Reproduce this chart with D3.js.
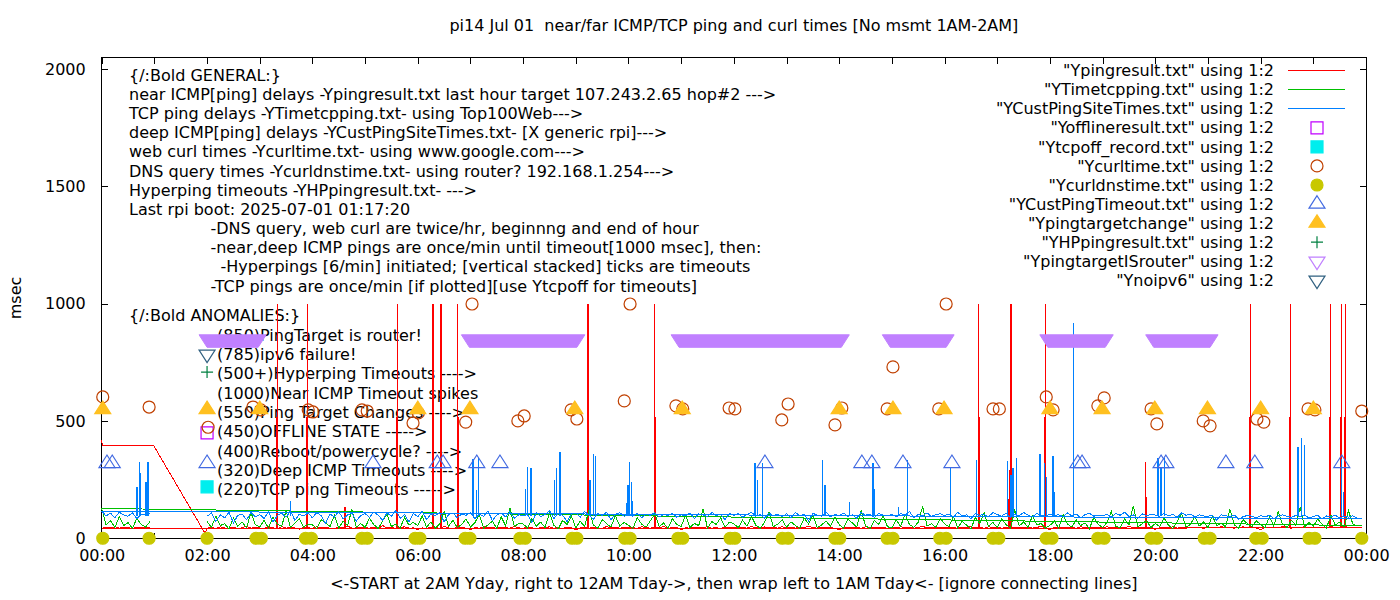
<!DOCTYPE html>
<html>
<head>
<meta charset="utf-8">
<script src="https://cdn.jsdelivr.net/npm/d3@7"></script>
<style>
  body { margin: 0; background: #fff; }
  svg text { font-family: "DejaVu Sans", sans-serif; font-size: 16px; fill: #000; white-space: pre; }
</style>
</head>
<body>
<svg id="chart"></svg>
<script>
// ---- data (hours since midnight, msec) ----

// near ICMP ping (Ypingresult.txt): odd "last hour" head, then 5-min samples 02:00-24:00 yesterday, then 00:00-01:00 today
const nearPingHead = [[0.0, 420], [0.01, 398], [0.98, 398], [1.96, 23]];
const nearPingRows = [
  [44, 47, 42, 50, 45, 43, 48, 41, 46, 52, 44, 47],
  [45, 43, 49, 46, 42, 51, 44, 47, 45, 40, 48, 46],
  [43, 50, 45, 47, 44, 42, 49, 46, 53, 44, 45, 48],
  [46, 44, 48, 42, 55, 45, 47, 43, 46, 50, 44, 45],
  [38, 45, 43, 49, 46, 44, 51, 45, 42, 48, 46, 44],
  [38, 46, 44, 50, 45, 47, 43, 49, 46, 44, 52, 45],
  [44, 48, 46, 42, 47, 45, 50, 44, 46, 43, 49, 47],
  [36, 45, 49, 44, 47, 46, 42, 51, 45, 48, 44, 46],
  [45, 47, 43, 50, 46, 44, 48, 45, 52, 43, 46, 47],
  [37, 46, 44, 48, 45, 47, 50, 44, 46, 43, 49, 45],
  [48, 45, 47, 44, 51, 46, 43, 49, 45, 47, 44, 50],
  [46, 48, 44, 47, 45, 53, 46, 44, 48, 45, 47, 43],
  [37, 47, 45, 49, 46, 44, 50, 47, 45, 48, 46, 44],
  [47, 45, 50, 46, 48, 44, 47, 52, 45, 49, 46, 48],
  [45, 49, 46, 44, 48, 47, 51, 45, 47, 44, 50, 46],
  [48, 44, 47, 50, 45, 49, 46, 48, 44, 47, 52, 45],
  [38, 47, 49, 45, 48, 46, 44, 50, 47, 45, 49, 46],
  [46, 50, 45, 48, 44, 47, 51, 46, 49, 45, 47, 48],
  [39, 45, 48, 46, 50, 44, 47, 49, 45, 48, 46, 44],
  [47, 49, 45, 51, 46, 48, 44, 47, 50, 46, 49, 45],
  [38, 48, 46, 49, 45, 51, 47, 44, 48, 46, 50, 47],
  [46, 49, 47, 45, 50, 48, 46, 52, 47, 45, 49, 45]
];
const nearPingToday = [[43, 47, 45, 50, 44, 48, 46, 42, 49, 45, 47, 46]];
// near ICMP timeout spikes: [hour, peak, top of the stacked part]
const nearSpikes = [
  [3.33, 1000, 518], [3.90, 1000, 518], [4.62, 134, 0], [5.61, 1000, 518], [6.29, 1000, 518],
  [6.44, 1000, 518], [6.76, 1000, 518], [9.23, 1000, 518], [10.50, 1000, 518], [16.65, 1000, 518],
  [17.23, 292, 170], [17.26, 1000, 518], [17.91, 1000, 518], [19.82, 326, 177], [21.80, 1000, 518],
  [22.56, 1000, 518], [23.32, 1000, 518], [23.53, 1000, 518], [23.61, 1000, 518]
];
const nearBase = 45;

// TCP ping (YTimetcpping.txt)
const tcpPingRows = [
  [72, 48, 95, 55, 63, 41, 88, 52, 70, 46, 110, 58],
  [50, 77, 44, 92, 60, 53, 118, 47, 66, 85, 49, 61],
  [58, 43, 80, 67, 51, 99, 45, 73, 56, 122, 48, 64],
  [47, 86, 59, 42, 75, 104, 50, 62, 45, 90, 57, 69],
  [54, 96, 48, 71, 44, 63, 115, 52, 78, 46, 60, 83],
  [49, 67, 101, 45, 58, 74, 43, 92, 55, 130, 51, 64],
  [62, 45, 84, 53, 70, 47, 108, 56, 41, 77, 60, 95],
  [46, 73, 52, 120, 58, 44, 81, 63, 49, 97, 54, 68],
  [57, 42, 89, 61, 48, 76, 105, 50, 66, 43, 84, 59],
  [51, 99, 47, 64, 55, 126, 45, 72, 60, 88, 48, 70],
  [63, 46, 78, 52, 94, 57, 44, 69, 112, 50, 61, 80],
  [48, 71, 56, 43, 87, 62, 100, 47, 58, 74, 53, 91],
  [59, 44, 83, 66, 49, 118, 55, 42, 76, 61, 97, 50],
  [45, 79, 52, 104, 60, 47, 70, 136, 54, 63, 48, 86],
  [62, 50, 93, 46, 73, 57, 41, 89, 65, 110, 52, 68],
  [48, 85, 59, 44, 121, 53, 71, 47, 96, 58, 64, 45],
  [56, 74, 43, 102, 61, 49, 80, 55, 67, 42, 90, 60],
  [47, 68, 115, 52, 45, 83, 58, 140, 50, 62, 77, 46],
  [64, 51, 88, 57, 43, 72, 106, 48, 60, 94, 53, 70],
  [45, 97, 55, 66, 49, 124, 58, 44, 81, 63, 50, 75],
  [59, 46, 92, 53, 113, 61, 47, 78, 56, 132, 49, 68],
  [52, 84, 60, 45, 99, 57, 70, 48, 118, 62, 54, 55]
];
const tcpPingToday = [[128, 58, 76, 47, 92, 55, 68, 44, 85, 60, 49, 72]];

// deep ICMP ping (YCustPingSiteTimes.txt)
const deepPingRows = [
  [95, 108, 72, 101, 88, 112, 66, 99, 104, 80, 110, 93],
  [102, 85, 114, 70, 98, 107, 91, 118, 77, 103, 96, 109],
  [88, 111, 97, 64, 105, 92, 115, 83, 100, 108, 74, 98],
  [106, 90, 113, 99, 78, 110, 95, 120, 86, 102, 69, 107],
  [93, 116, 81, 104, 97, 112, 71, 101, 109, 88, 105, 99],
  [110, 84, 103, 95, 117, 76, 100, 108, 92, 114, 87, 101],
  [97, 105, 68, 111, 94, 102, 119, 85, 107, 99, 73, 104],
  [108, 91, 115, 100, 82, 106, 97, 112, 79, 103, 110, 95],
  [101, 95, 106, 88, 104, 99, 110, 92, 103, 97, 108, 90],
  [102, 96, 109, 85, 105, 100, 93, 111, 98, 104, 80, 107],
  [99, 106, 91, 103, 112, 95, 101, 87, 108, 97, 104, 93],
  [105, 89, 110, 98, 102, 76, 107, 100, 95, 113, 92, 103],
  [97, 108, 94, 101, 86, 111, 99, 104, 90, 106, 100, 96],
  [103, 92, 107, 99, 115, 88, 102, 97, 109, 94, 101, 105],
  [98, 104, 90, 112, 96, 101, 83, 107, 99, 103, 93, 110],
  [102, 95, 108, 89, 104, 97, 111, 100, 92, 106, 99, 94],
  [105, 98, 101, 93, 109, 96, 104, 88, 102, 107, 95, 100],
  [97, 103, 91, 106, 99, 112, 94, 101, 86, 105, 98, 102],
  [100, 94, 107, 97, 103, 90, 109, 99, 104, 92, 101, 96],
  [95, 99, 78, 101, 97, 94, 100, 82, 93, 98, 95, 88],
  [97, 92, 99, 85, 96, 101, 94, 90, 98, 93, 100, 87],
  [94, 98, 83, 96, 92, 99, 88, 95, 91, 97, 86, 84]
];
const deepPingToday = [[117, 96, 108, 89, 112, 101, 95, 110, 84, 104, 99, 107]];
// deep ICMP one-minute spikes: [hour, peak]
const deepSpikes = [
  [0.67, 220], [0.71, 326], [0.73, 280], [0.84, 240], [0.88, 326], [3.58, 160],
  [7.05, 340], [7.11, 205], [7.16, 343], [8.05, 210], [8.09, 305], [8.15, 300],
  [8.60, 250], [8.64, 300], [8.70, 370], [9.27, 250], [9.33, 360], [9.38, 350],
  [9.96, 150], [9.99, 230], [10.02, 326], [10.05, 240], [10.08, 160],
  [12.40, 320], [12.45, 250], [12.55, 320], [13.69, 335], [13.73, 230], [14.19, 155],
  [14.64, 320], [14.67, 210], [15.12, 135], [15.29, 334], [16.12, 305], [16.61, 335],
  [17.20, 330], [17.26, 270], [17.30, 300], [17.36, 345], [17.81, 360], [17.89, 320],
  [17.93, 260], [18.06, 350], [18.09, 200], [18.44, 920], [18.45, 500],
  [20.05, 345], [20.11, 300], [20.17, 345], [22.71, 390], [22.77, 430], [22.84, 400],
  [23.54, 340], [23.58, 200]
];
const deepBase = 95;

// point files: [hour, msec]
const offlineState = [[2.0, 450]];
const tcpOff = [[2.0, 220]];
const curlTimes = [
  [0.02, 603], [0.90, 560], [2.02, 474], [2.87, 560], [3.02, 548], [3.92, 548], [4.01, 539],
  [4.94, 548], [5.04, 543], [5.91, 492], [6.01, 535], [6.91, 496], [7.03, 999], [7.90, 501],
  [8.02, 522], [8.91, 548], [9.02, 509], [9.92, 586], [10.03, 999], [10.90, 565], [11.03, 552],
  [11.91, 556], [12.02, 552], [12.91, 505], [13.03, 573], [13.92, 484], [14.05, 556],
  [14.91, 552], [15.02, 731], [15.89, 552], [16.03, 999], [16.92, 552], [17.04, 552],
  [17.93, 603], [18.06, 548], [18.91, 565], [19.03, 599], [19.92, 552], [20.03, 488],
  [20.91, 501], [21.04, 480], [21.93, 509], [22.06, 496], [22.90, 552], [23.03, 548], [23.92, 543]
];
const dnsTimes = [
  [0.02, 1], [0.90, 1], [2.00, 1], [2.93, 1], [3.03, 1], [3.87, 1], [3.98, 1], [4.94, 1], [5.04, 1],
  [5.95, 1], [6.04, 1], [6.90, 1], [6.99, 1], [7.94, 1], [8.04, 1], [8.93, 1], [9.02, 1],
  [9.93, 1], [10.03, 1], [10.94, 1], [11.03, 1], [11.93, 1], [12.02, 1], [12.92, 1], [13.03, 1],
  [13.92, 1], [14.01, 1], [14.91, 1], [15.02, 1], [15.91, 1], [16.03, 1], [16.92, 1], [17.03, 1],
  [17.93, 1], [18.04, 1], [18.91, 1], [19.03, 1], [19.92, 1], [20.03, 1], [20.93, 1], [21.04, 1],
  [21.91, 1], [22.03, 1], [22.92, 1], [23.03, 1], [23.92, 1]
];
const deepTimeouts = [
  [0.10, 320], [0.20, 320], [2.0, 320], [5.15, 320], [6.37, 320], [6.48, 320], [7.12, 320],
  [7.56, 320], [12.59, 320], [14.43, 320], [14.62, 320], [15.21, 320], [16.14, 320],
  [18.53, 320], [18.61, 320], [20.11, 320], [20.20, 320], [21.34, 320], [21.89, 320], [23.54, 320]
];
const targetChanges = [
  [0.02, 550], [2.0, 550], [3.0, 550], [6.0, 550], [6.99, 550], [8.98, 550], [11.02, 550],
  [14.0, 550], [15.02, 550], [15.99, 550], [18.0, 550], [18.99, 550], [19.99, 550],
  [20.99, 550], [22.0, 550], [23.0, 550]
];
const hyperTimeouts = [[2.0, 709]];
// ping target is router: logged every minute over these spans, at 850
const routerSpans = [[2.0, 2.97], [6.98, 9.02], [10.96, 14.04], [14.97, 16.03], [17.96, 19.05], [19.97, 21.04]];
const routerLevel = 850;
const noIpv6 = [[2.0, 785]];

const xTickLabels = ["00:00", "02:00", "04:00", "06:00", "08:00", "10:00", "12:00",
  "14:00", "16:00", "18:00", "20:00", "22:00", "00:00"];
const yTicks = [0, 500, 1000, 1500, 2000];

const legendNames = [
  '"Ypingresult.txt" using 1:2', '"YTimetcpping.txt" using 1:2', '"YCustPingSiteTimes.txt" using 1:2',
  '"Yofflineresult.txt" using 1:2', '"Ytcpoff_record.txt" using 1:2', '"Ycurltime.txt" using 1:2',
  '"Ycurldnstime.txt" using 1:2', '"YCustPingTimeout.txt" using 1:2', '"Ypingtargetchange" using 1:2',
  '"YHPpingresult.txt" using 1:2', '"YpingtargetISrouter" using 1:2', '"Ynoipv6" using 1:2'
];

const generalLines = [
  "{/:Bold GENERAL:}",
  "near ICMP[ping] delays -Ypingresult.txt last hour target 107.243.2.65 hop#2 --->",
  "TCP ping delays -YTimetcpping.txt- using Top100Web--->",
  "deep ICMP[ping] delays -YCustPingSiteTimes.txt- [X generic rpi]--->",
  "web curl times -Ycurltime.txt- using www.google.com--->",
  "DNS query times -Ycurldnstime.txt- using router? 192.168.1.254--->",
  "Hyperping timeouts -YHPpingresult.txt- --->",
  "Last rpi boot: 2025-07-01 01:17:20",
  "                -DNS query, web curl are twice/hr, beginnng and end of hour",
  "                -near,deep ICMP pings are once/min until timeout[1000 msec], then:",
  "                  -Hyperpings [6/min] initiated; [vertical stacked] ticks are timeouts",
  "                -TCP pings are once/min [if plotted][use Ytcpoff for timeouts]"
];
const anomalyTitle = "{/:Bold ANOMALIES:}";
const anomalyLines = [
  "(850)PingTarget is router!",
  "(785)ipv6 failure!",
  "(500+)Hyperping Timeouts ---->",
  "(1000)Near ICMP Timeout spikes",
  "(550)Ping Target Changes ---->",
  "(450)OFFLINE STATE ----->",
  "(400)Reboot/powercycle? ---->",
  "(320)Deep ICMP Timeouts ---->",
  "(220)TCP ping Timeouts ----->"
];

// ---- chart ----
const svg = d3.select("#chart");
const width = 1400;
const height = 600;
svg.attr("width", width).attr("height", height);

const plot = { left: 101.7, right: 1366, top: 57.5, bottom: 538.5 };
const x = d3.scaleLinear().domain([0, 24]).range([plot.left, plot.right]);
const y = d3.scaleLinear().domain([0, 2049]).range([plot.bottom, plot.top]);

const colors = {
  near: "#ff0000", tcp: "#00c000", deep: "#0080ff", offline: "#c000ff", tcpoff: "#00eeee",
  curl: "#c04000", dns: "#c8c800", deepTo: "#4169e1", change: "#ffc020", hyper: "#008040",
  router: "#c080ff", ipv6: "#306080"
};

function hourly(rows, firstHour) {
  const pts = [];
  rows.forEach((row, r) => row.forEach((v, i) => pts.push([firstHour + r + i / row.length, v])));
  return pts;
}

function symbol(kind, cx, cy) {
  const s = 6, hw = 8, th = 12.5, r = 6;
  if (kind === "square") return `M${cx - s},${cy - s}h${2 * s}v${2 * s}h${-2 * s}Z`;
  if (kind === "up") return `M${cx},${cy - 2 * th / 3}L${cx + hw},${cy + th / 3}L${cx - hw},${cy + th / 3}Z`;
  if (kind === "down") return `M${cx - hw},${cy - th / 3}L${cx + hw},${cy - th / 3}L${cx},${cy + 2 * th / 3}Z`;
  if (kind === "plus") return `M${cx - s},${cy}h${2 * s}M${cx},${cy - s}v${2 * s}`;
  return `M${cx - r},${cy}a${r},${r} 0 1,0 ${2 * r},0a${r},${r} 0 1,0 ${-2 * r},0Z`;
}

// border and ticks
const frame = svg.append("g").attr("shape-rendering", "crispEdges");
frame.append("rect")
  .attr("x", plot.left).attr("y", plot.top)
  .attr("width", plot.right - plot.left).attr("height", plot.bottom - plot.top)
  .attr("fill", "none").attr("stroke", "#000");

const hourTicks = d3.range(0, 25);
const xAxis = d3.axisBottom(x).tickValues(hourTicks).tickSize(-6).tickPadding(11)
  .tickFormat(h => h % 2 === 0 ? xTickLabels[h / 2] : "");
const xAxisTop = d3.axisTop(x).tickValues(hourTicks).tickSize(-6).tickFormat("");
const yAxis = d3.axisLeft(y).tickValues(yTicks).tickSize(-6).tickPadding(16).tickFormat(d3.format("d"));
const yAxisRight = d3.axisRight(y).tickValues(yTicks).tickSize(-6).tickFormat("");

[[xAxis, `translate(0,${plot.bottom})`], [xAxisTop, `translate(0,${plot.top})`],
 [yAxis, `translate(${plot.left},0)`], [yAxisRight, `translate(${plot.right},0)`]].forEach(([ax, tr]) => {
  const g = frame.append("g").attr("transform", tr).call(ax);
  g.select(".domain").remove();
  g.selectAll("line").attr("stroke", "#000");
  g.selectAll("text").attr("font-family", "DejaVu Sans").attr("font-size", 15.5).attr("fill", "#000");
});

// labels sit behind the data
const labels = svg.append("g");
generalLines.forEach((t, i) => {
  labels.append("text").attr("x", 129).attr("y", 75 + i * 19.18).attr("dy", "0.35em").text(t);
});
labels.append("text").attr("x", 129).attr("y", 315).attr("dy", "0.35em").text(anomalyTitle);
anomalyLines.forEach((t, i) => {
  labels.append("text").attr("x", x(2.0) + 10).attr("y", 335 + i * 19.35).attr("dy", "0.35em").text(t);
});

// lines
const line = d3.line().x(d => x(d[0])).y(d => y(d[1]));
const data = svg.append("g").attr("shape-rendering", "crispEdges");

const nearSeries = nearPingHead.concat(hourly(nearPingRows, 2), hourly(nearPingToday, 0));
const tcpSeries = hourly(tcpPingRows, 2).concat(hourly(tcpPingToday, 0));
const deepSeries = hourly(deepPingRows, 2).concat(hourly(deepPingToday, 0));

data.append("path").datum(nearSeries).attr("d", line)
  .attr("fill", "none").attr("stroke", colors.near).attr("stroke-width", 1);
data.selectAll(".nearSpike").data(nearSpikes).enter().append("line")
  .attr("class", "nearSpike")
  .attr("x1", d => x(d[0])).attr("x2", d => x(d[0]))
  .attr("y1", y(nearBase)).attr("y2", d => y(d[1]))
  .attr("stroke", colors.near).attr("stroke-width", 1.2);
data.selectAll(".nearStack").data(nearSpikes.filter(d => d[2] > 0)).enter().append("line")
  .attr("class", "nearStack")
  .attr("x1", d => x(d[0])).attr("x2", d => x(d[0]))
  .attr("y1", y(nearBase)).attr("y2", d => y(d[2]))
  .attr("stroke", colors.near).attr("stroke-width", 2);

data.append("path").datum(tcpSeries).attr("d", line)
  .attr("fill", "none").attr("stroke", colors.tcp).attr("stroke-width", 1);

data.append("path").datum(deepSeries).attr("d", line)
  .attr("fill", "none").attr("stroke", colors.deep).attr("stroke-width", 1);
data.selectAll(".deepSpike").data(deepSpikes).enter().append("line")
  .attr("class", "deepSpike")
  .attr("x1", d => x(d[0])).attr("x2", d => x(d[0]))
  .attr("y1", y(deepBase)).attr("y2", d => y(d[1]))
  .attr("stroke", colors.deep).attr("stroke-width", 1.2);

// points
const pointSeries = [
  { data: offlineState, kind: "square", color: colors.offline, filled: false },
  { data: tcpOff, kind: "square", color: colors.tcpoff, filled: true },
  { data: curlTimes, kind: "circle", color: colors.curl, filled: false },
  { data: dnsTimes, kind: "circle", color: colors.dns, filled: true },
  { data: deepTimeouts, kind: "up", color: colors.deepTo, filled: false },
  { data: targetChanges, kind: "up", color: colors.change, filled: true },
  { data: hyperTimeouts, kind: "plus", color: colors.hyper, filled: false },
  { data: null, kind: "down", color: colors.router, filled: false },
  { data: noIpv6, kind: "down", color: colors.ipv6, filled: false }
];

const pts = svg.append("g");
pointSeries.forEach(s => {
  if (s.data === null) {
    // one open triangle per minute merges into a solid band
    const hw = 8, th = 12.5, cy = y(routerLevel);
    pts.selectAll(".routerBand").data(routerSpans).enter().append("path")
      .attr("class", "routerBand")
      .attr("d", d => `M${x(d[0]) - hw},${cy - th / 3}L${x(d[1]) + hw},${cy - th / 3}` +
        `L${x(d[1])},${cy + 2 * th / 3}L${x(d[0])},${cy + 2 * th / 3}Z`)
      .attr("fill", s.color).attr("stroke", s.color);
    return;
  }
  pts.append("g").selectAll("path").data(s.data).enter().append("path")
    .attr("d", d => symbol(s.kind, x(d[0]), y(d[1])))
    .attr("fill", s.filled ? s.color : "none")
    .attr("stroke", s.color).attr("stroke-width", 1.2);
});

// legend
const legend = svg.append("g");
legendNames.forEach((name, i) => {
  const ly = 70.7 + i * 19.05;
  legend.append("text").attr("x", 1274).attr("y", ly).attr("dy", "0.35em")
    .attr("text-anchor", "end").text(name);
  if (i < 3) {
    const c = [colors.near, colors.tcp, colors.deep][i];
    legend.append("line").attr("x1", 1288).attr("x2", 1345).attr("y1", ly).attr("y2", ly)
      .attr("stroke", c).attr("stroke-width", 1.2).attr("shape-rendering", "crispEdges");
  } else {
    const s = pointSeries[i - 3];
    legend.append("path").attr("d", symbol(s.kind, 1317, ly))
      .attr("fill", s.filled ? s.color : "none")
      .attr("stroke", s.color).attr("stroke-width", 1.2);
  }
});

// titles
svg.append("text").attr("x", (plot.left + plot.right) / 2).attr("y", 25).attr("dy", "0.35em")
  .attr("text-anchor", "middle")
  .text("pi14 Jul 01  near/far ICMP/TCP ping and curl times [No msmt 1AM-2AM]");
svg.append("text").attr("x", (plot.left + plot.right) / 2).attr("y", 583).attr("dy", "0.35em")
  .attr("text-anchor", "middle")
  .text("<-START at 2AM Yday, right to 12AM Tday->, then wrap left to 1AM Tday<- [ignore connecting lines]");
svg.append("text").attr("transform", `translate(15,${(plot.top + plot.bottom) / 2}) rotate(-90)`)
  .attr("dy", "0.35em").attr("text-anchor", "middle").text("msec");
</script>
</body>
</html>
